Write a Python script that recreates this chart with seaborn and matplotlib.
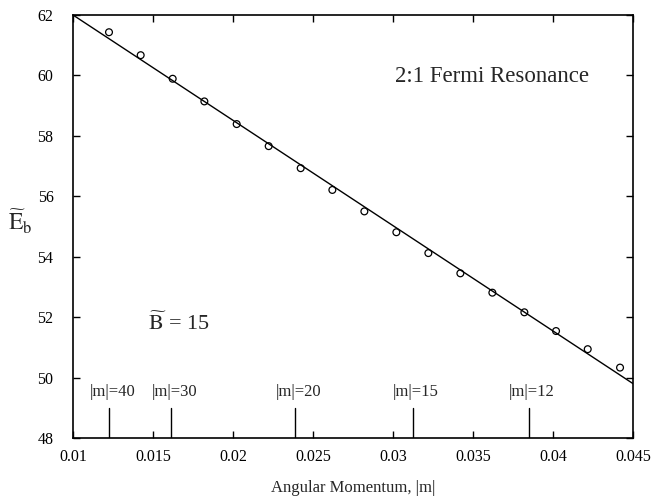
import matplotlib
matplotlib.use("Agg")
import matplotlib.pyplot as plt
import seaborn as sns
import pandas as pd

# Data
ang_mom = [0.01225, 0.01423, 0.01623, 0.01821, 0.02023, 0.02223, 0.02423, 0.02621,
           0.02821, 0.03021, 0.03221, 0.03421, 0.03621, 0.03821, 0.04019, 0.04217, 0.04419]
energy = [61.43, 60.67, 59.89, 59.14, 58.39, 57.66, 56.93, 56.21,
          55.50, 54.81, 54.12, 53.45, 52.81, 52.16, 51.54, 50.94, 50.33]
fit_x = [0.01, 0.045]
fit_y = [62.0, 49.8]
m_labels = ["|m|=40", "|m|=30", "|m|=20", "|m|=15", "|m|=12"]
m_pos = [0.01225, 0.01613, 0.02388, 0.03123, 0.03848]
xticks = [0.01, 0.015, 0.02, 0.025, 0.03, 0.035, 0.04, 0.045]
xticklabels = ["0.01", "0.015", "0.02", "0.025", "0.03", "0.035", "0.04", "0.045"]
yticks = [48, 50, 52, 54, 56, 58, 60, 62]

sns.set_theme(style="ticks")
plt.rcParams['font.family'] = ['Liberation Serif', 'DejaVu Serif']
plt.rcParams['mathtext.fontset'] = 'stix'

fig = plt.figure(figsize=(6.51, 5.0), dpi=100)
ax = fig.add_axes([73/651, 1-438/500, 560/651, 423/500])

df = pd.DataFrame({"x": ang_mom, "y": energy})
fit = pd.DataFrame({"x": fit_x, "y": fit_y})
sns.lineplot(data=fit, x="x", y="y", ax=ax, color="black", linewidth=1.0)
sns.scatterplot(data=df, x="x", y="y", ax=ax, marker="o", s=24,
                facecolors="none", edgecolor="black", linewidth=0.9, zorder=3)

for lab, xp in zip(m_labels, m_pos):
    ax.plot([xp, xp], [48, 49.0], color="black", linewidth=1.0)
    ax.text(xp + 0.0002, 49.25, lab, ha="center", va="bottom", fontsize=12)

ax.text(0.01125 + (393 - 91) / 16000, 59.95, "2:1 Fermi Resonance", fontsize=16.5,
        ha="left", va="center")
ax.text(0.0147, 51.8, r"$\widetilde{\mathrm{B}}$ = 15", fontsize=16, ha="left", va="center")

ax.set_xlim(0.01, 0.045)
ax.set_ylim(48, 62)
ax.set_xticks(xticks)
ax.set_xticklabels(xticklabels)
ax.set_yticks(yticks)
ax.tick_params(direction="in", top=True, right=True, length=5, width=1,
               labelsize=11.5, colors="black")
ax.tick_params(axis="x", pad=8)
ax.tick_params(axis="y", pad=14)
for s in ax.spines.values():
    s.set_linewidth(1.2)
    s.set_color("black")

ax.set_xlabel("Angular Momentum, |m|", fontsize=12)
ax.xaxis.set_label_coords(0.5, (438 - 488) / 423)
ax.xaxis.label.set_va("center")
ax.set_ylabel(r"$\widetilde{\mathrm{E}}_\mathrm{b}$", fontsize=17, rotation=0, va="center", ha="left")
ax.yaxis.set_label_coords(-65 / 560, (438 - 222) / 423)

fig.savefig("out.png", dpi=100)
